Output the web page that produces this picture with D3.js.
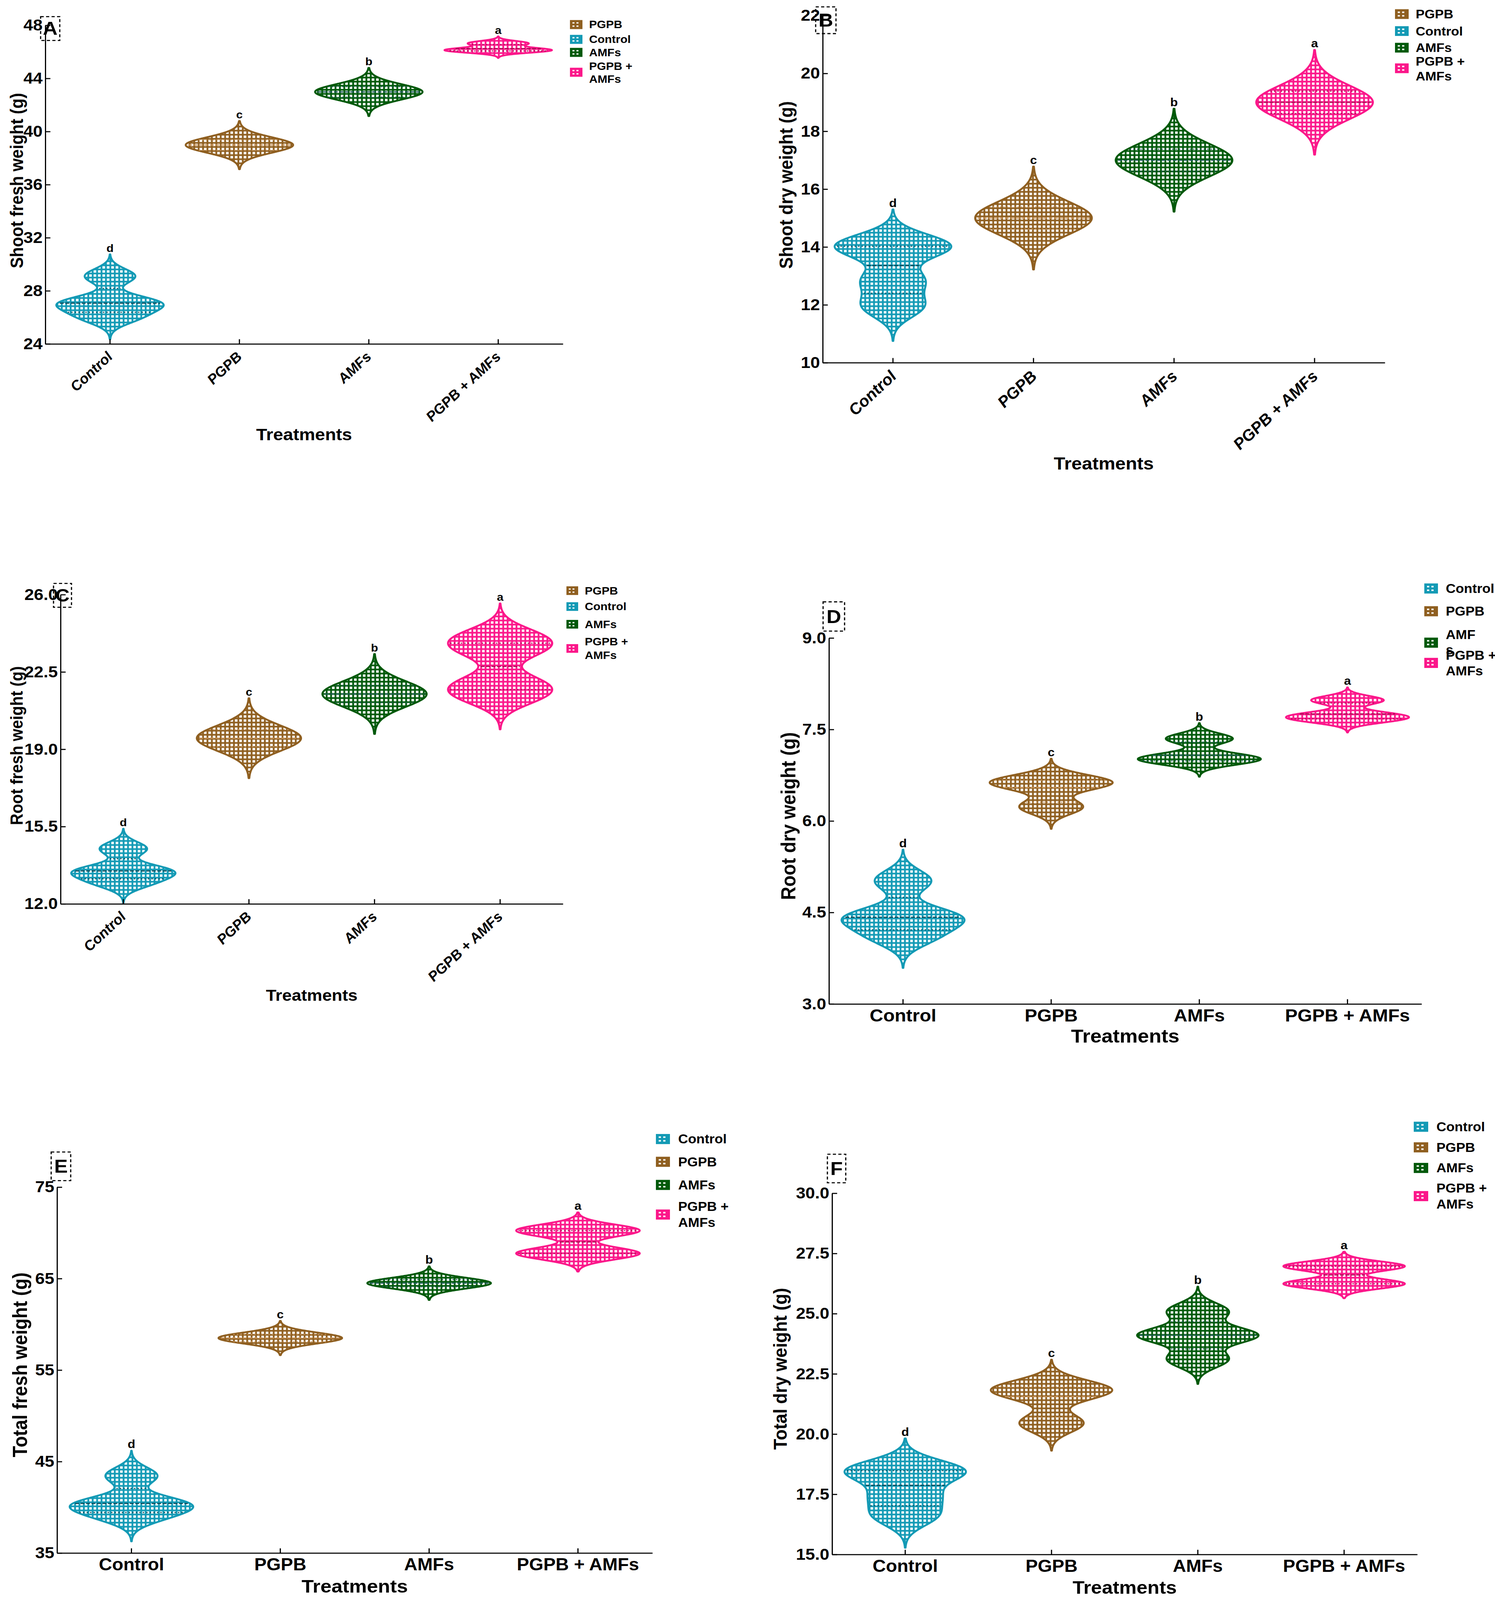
<!DOCTYPE html>
<html>
<head>
<meta charset="utf-8">
<script src="https://cdn.jsdelivr.net/npm/d3@7"></script>
<style>
  html, body { margin: 0; padding: 0; height: 100%; overflow: hidden; background: #fff; }
  svg { display: block; width: 100vw; height: 100vh; }
</style>
</head>
<body>
<script>
// ---- data (replicate values) ----
const treatments = ["Control", "PGPB", "AMFs", "PGPB + AMFs"];
const letters = ["d", "c", "b", "a"];

const shootFresh = [[26.0, 26.9, 27.2, 29.1], [38.9, 39.0, 39.05], [42.9, 43.0, 43.05], [46.05, 46.2, 46.65]];
const shootFreshBw = [0.55, 0.58, 0.58, 0.17];
const shootDry = [[11.95, 12.85, 13.95, 14.1], [14.9, 15.0, 15.1], [16.9, 17.0, 17.1], [18.9, 19.0, 19.1]];
const shootDryBw = [0.4, 0.56, 0.56, 0.57];
const rootFresh = [[12.95, 13.4, 13.55, 14.5], [19.4, 19.5, 19.6], [21.4, 21.5, 21.6], [21.4, 22.0, 23.5, 24.1]];
const rootFreshBw = [0.3, 0.57, 0.57, 0.5];
const rootDry = [[4.1, 4.38, 4.45, 5.02], [6.23, 6.6, 6.66], [6.98, 7.05, 7.35], [7.66, 7.74, 7.98]];
const rootDryBw = [0.17, 0.12, 0.085, 0.07];
const totalFresh = [[39.0, 40.2, 40.5, 43.45], [58.4, 58.5, 58.6], [64.4, 64.5, 64.6], [67.75, 70.25]];
const totalFreshBw = [0.91, 0.59, 0.58, 0.66];
const totalDry = [[16.6, 17.45, 18.45, 18.5], [20.45, 21.7, 21.95], [23.1, 24.05, 24.15, 25.1], [26.24, 26.97]];
const totalDryBw = [0.44, 0.38, 0.34, 0.2];

const ticksShootFresh = [24, 28, 32, 36, 40, 44, 48];
const ticksShootDry = [10, 12, 14, 16, 18, 20, 22];
const ticksRootFresh = [12.0, 15.5, 19.0, 22.5, 26.0];
const ticksRootDry = [3.0, 4.5, 6.0, 7.5, 9.0];
const ticksTotalFresh = [35, 45, 55, 65, 75];
const ticksTotalDry = [15.0, 17.5, 20.0, 22.5, 25.0, 27.5, 30.0];

const colors = ["#139ab5", "#8f5f20", "#00590a", "#fb178a"];
const lineColors = ["#0a4654", "#c9945a", "#1e5a5a", "#a3104f"];

const FONT = "'Liberation Sans', Arial, sans-serif";
const W = 3827, H = 4429;

const legendAlt = [["PGPB"], ["Control"], ["AMFs"], ["PGPB +", "AMFs"]];
const legendStd = [["Control"], ["PGPB"], ["AMFs"], ["PGPB +", "AMFs"]];

const panels = [
  { label: "A", values: shootFresh, bw: shootFreshBw, ticks: ticksShootFresh, fmt: d3.format("d"),
    yTitle: "Shoot fresh weight (g)", left: 116, right: 1441, top: 70, bottom: 952,
    rotated: true, xFont: 38, letterFont: 30, yTitleX: 43, yTitleY: 500, yTitleFont: 46,
    xTitleY: 1202, xTitleFont: 46, box: [104, 46, 49, 66], boxFont: 52,
    legend: { x: 1459, tx: 1508, w: 32, h: 25, font: 30, order: [1, 0, 2, 3], lines: legendAlt,
      sy: [68, 109, 145, 200], ly: [[68], [109], [145], [183, 219]] } },
  { label: "B", values: shootDry, bw: shootDryBw, ticks: ticksShootDry, fmt: d3.format("d"),
    yTitle: "Shoot dry weight (g)", left: 2106, right: 3545, top: 43, bottom: 1004,
    rotated: true, xFont: 43, letterFont: 32, yTitleX: 2012, yTitleY: 512, yTitleFont: 48,
    xTitleY: 1283, xTitleFont: 48, box: [2088, 19, 52, 74], boxFont: 52,
    legend: { x: 3571, tx: 3624, w: 35, h: 27, font: 34, order: [1, 0, 2, 3], lines: legendAlt,
      sy: [39, 86, 132, 189], ly: [[39], [86], [132], [170, 211]] } },
  { label: "C", values: rootFresh, bw: rootFreshBw, ticks: ticksRootFresh, fmt: d3.format(".1f"),
    yTitle: "Root fresh weight (g)", left: 155, right: 1441, top: 1646, bottom: 2502,
    rotated: true, xFont: 38, letterFont: 30, yTitleX: 43, yTitleY: 2064, yTitleFont: 44,
    xTitleY: 2755, xTitleFont: 44, box: [137, 1615, 46, 66], boxFont: 50,
    legend: { x: 1450, tx: 1497, w: 30, h: 24, font: 30, order: [1, 0, 2, 3], lines: legendAlt,
      sy: [1635, 1679, 1728, 1795], ly: [[1635], [1679], [1728], [1776, 1814]] } },
  { label: "D", values: rootDry, bw: rootDryBw, ticks: ticksRootDry, fmt: d3.format(".1f"),
    yTitle: "Root dry weight (g)", left: 2122, right: 3639, top: 1766, bottom: 2779,
    rotated: false, xFont: 48, letterFont: 32, yTitleX: 2018, yTitleY: 2259, yTitleFont: 51,
    xTitleY: 2868, xTitleFont: 52, box: [2107, 1666, 55, 81], boxFont: 52,
    legend: { x: 3646, tx: 3701, w: 35, h: 28, font: 35, order: [0, 1, 2, 3],
      lines: [["Control"], ["PGPB"], ["AMF", "s"], ["PGPB +", "AMFs"]],
      sy: [1629, 1692, 1779, 1835], ly: [[1629], [1692], [1757, 1799], [1814, 1857]] } },
  { label: "E", values: totalFresh, bw: totalFreshBw, ticks: ticksTotalFresh, fmt: d3.format("d"),
    yTitle: "Total fresh weight (g)", left: 146, right: 1670, top: 3286, bottom: 4299,
    rotated: false, xFont: 47, letterFont: 32, yTitleX: 51, yTitleY: 3778, yTitleFont: 51,
    xTitleY: 4391, xTitleFont: 51, box: [131, 3189, 50, 79], boxFont: 52,
    legend: { x: 1679, tx: 1736, w: 36, h: 28, font: 35, order: [0, 1, 2, 3], lines: legendStd,
      sy: [3153, 3216, 3280, 3362], ly: [[3153], [3216], [3280], [3340, 3384]] } },
  { label: "F", values: totalDry, bw: totalDryBw, ticks: ticksTotalDry, fmt: d3.format(".1f"),
    yTitle: "Total dry weight (g)", left: 2130, right: 3628, top: 3303, bottom: 4303,
    rotated: false, xFont: 47, letterFont: 32, yTitleX: 1997, yTitleY: 3789, yTitleFont: 49,
    xTitleY: 4394, xTitleFont: 50, box: [2118, 3195, 47, 79], boxFont: 52,
    legend: { x: 3619, tx: 3677, w: 37, h: 28, font: 35, order: [0, 1, 2, 3], lines: legendStd,
      sy: [3119, 3176, 3233, 3311], ly: [[3119], [3176], [3233], [3289, 3333]] } }
];

// drawn in a 3827x4429 user space, stretched to whatever the viewport really is
const svg = d3.select("body").append("svg")
  .attr("viewBox", `0 0 ${W} ${H}`)
  .attr("preserveAspectRatio", "none");

// grid hatch: coloured ground with white squares
const defs = svg.append("defs");
const P = 11.3;
colors.forEach((c, i) => {
  const pat = defs.append("pattern")
    .attr("id", "grid" + i)
    .attr("patternUnits", "userSpaceOnUse")
    .attr("width", P).attr("height", P);
  pat.append("rect").attr("width", P).attr("height", P).attr("fill", c);
  pat.append("rect").attr("x", 2.3).attr("y", 2.3).attr("width", 6.7).attr("height", 6.7).attr("fill", "#fff");
});

// gaussian kernel density, cut at 3 bandwidths like ggplot
function violinProfile(values, bw) {
  const lo = d3.min(values) - 3 * bw;
  const hi = d3.max(values) + 3 * bw;
  const n = 400;
  const pts = d3.range(n + 1).map(i => {
    const v = lo + (hi - lo) * i / n;
    const d = d3.sum(values, x => Math.exp(-0.5 * ((v - x) / bw) ** 2));
    return { v, d };
  });
  const maxD = d3.max(pts, p => p.d);
  let cum = 0;
  pts.forEach((p, i) => {
    p.w = p.d / maxD;
    if (i > 0) cum += (p.d + pts[i - 1].d) / 2;
    p.c = cum;
  });
  pts.forEach(p => (p.c /= cum));
  return pts;
}

function quantileAt(pts, q) {
  const i = d3.bisector(p => p.c).left(pts, q);
  const a = pts[Math.max(i - 1, 0)], b = pts[i];
  const t = b.c === a.c ? 0 : (q - a.c) / (b.c - a.c);
  return { v: a.v + t * (b.v - a.v), w: a.w + t * (b.w - a.w) };
}

panels.forEach(cfg => {
  const g = svg.append("g").attr("class", "panel-" + cfg.label);

  const x = d3.scaleBand().domain(treatments).range([cfg.left, cfg.right]);
  const y = d3.scaleLinear()
    .domain([cfg.ticks[0], cfg.ticks[cfg.ticks.length - 1]])
    .range([cfg.bottom, cfg.top]);
  const halfMax = x.bandwidth() * 0.415;

  // violins
  treatments.forEach((t, i) => {
    const pts = violinProfile(cfg.values[i], cfg.bw[i]);
    const cx = x(t) + x.bandwidth() / 2;
    const area = d3.area()
      .y(p => y(p.v))
      .x0(p => cx - p.w * halfMax)
      .x1(p => cx + p.w * halfMax);

    g.append("path")
      .datum(pts)
      .attr("d", area)
      .attr("fill", `url(#grid${i})`)
      .attr("stroke", colors[i])
      .attr("stroke-width", 5)
      .attr("stroke-linejoin", "round");

    [0.25, 0.5, 0.75].forEach(q => {
      const qp = quantileAt(pts, q);
      g.append("line")
        .attr("x1", cx - qp.w * halfMax + 6)
        .attr("x2", cx + qp.w * halfMax - 6)
        .attr("y1", y(qp.v)).attr("y2", y(qp.v))
        .attr("stroke", lineColors[i])
        .attr("stroke-width", 3)
        .attr("stroke-dasharray", q === 0.5 ? "10,4" : "3,6");
    });

    g.append("text")
      .attr("x", cx)
      .attr("y", y(pts[pts.length - 1].v) - 7)
      .attr("text-anchor", "middle")
      .attr("font-family", FONT)
      .attr("font-weight", "bold")
      .attr("font-size", cfg.letterFont)
      .text(letters[i]);
  });

  // axes
  const yAxis = d3.axisLeft(y)
    .tickValues(cfg.ticks)
    .tickFormat(cfg.fmt)
    .tickSizeInner(-13)
    .tickSizeOuter(0)
    .tickPadding(7);

  g.append("g")
    .attr("transform", `translate(${cfg.left},0)`)
    .call(yAxis)
    .call(a => a.attr("font-family", FONT).attr("font-size", 44).attr("font-weight", "bold"))
    .call(a => a.selectAll("path, line").attr("stroke", "#000").attr("stroke-width", 3))
    .call(a => a.selectAll("text").attr("fill", "#000"));

  const xAxis = d3.axisBottom(x)
    .tickSizeInner(-13)
    .tickSizeOuter(0)
    .tickPadding(15);

  const xg = g.append("g")
    .attr("transform", `translate(0,${cfg.bottom})`)
    .call(xAxis)
    .call(a => a.attr("font-family", FONT).attr("font-size", cfg.xFont).attr("font-weight", "bold"))
    .call(a => a.selectAll("path, line").attr("stroke", "#000").attr("stroke-width", 3))
    .call(a => a.selectAll("text").attr("fill", "#000"));

  if (cfg.rotated) {
    xg.selectAll(".tick text")
      .attr("y", 0)
      .attr("dy", "0.71em")
      .attr("text-anchor", "end")
      .attr("font-style", "italic")
      .attr("transform", "translate(-10,19) rotate(-45)");
  }

  // titles
  g.append("text")
    .attr("transform", `translate(${cfg.yTitleX},${cfg.yTitleY}) rotate(-90)`)
    .attr("text-anchor", "middle")
    .attr("dominant-baseline", "central")
    .attr("font-family", FONT)
    .attr("font-weight", "bold")
    .attr("font-size", cfg.yTitleFont)
    .text(cfg.yTitle);

  g.append("text")
    .attr("x", (cfg.left + cfg.right) / 2)
    .attr("y", cfg.xTitleY)
    .attr("text-anchor", "middle")
    .attr("dominant-baseline", "central")
    .attr("font-family", FONT)
    .attr("font-weight", "bold")
    .attr("font-size", cfg.xTitleFont)
    .text("Treatments");

  // panel letter in dashed box
  const [bx, by, bw, bh] = cfg.box;
  g.append("rect")
    .attr("x", bx).attr("y", by).attr("width", bw).attr("height", bh)
    .attr("fill", "none")
    .attr("stroke", "#000")
    .attr("stroke-width", 3)
    .attr("stroke-dasharray", "8,6");
  g.append("text")
    .attr("x", bx + bw / 2)
    .attr("y", by + bh / 2)
    .attr("text-anchor", "middle")
    .attr("dominant-baseline", "central")
    .attr("font-family", FONT)
    .attr("font-weight", "bold")
    .attr("font-size", cfg.boxFont)
    .text(cfg.label);

  // legend
  const L = cfg.legend;
  L.order.forEach((ti, row) => {
    const sy = L.sy[row] - L.h / 2;
    g.append("rect")
      .attr("x", L.x).attr("y", sy)
      .attr("width", L.w).attr("height", L.h)
      .attr("fill", colors[ti]);
    [[0.2, 0.24], [0.52, 0.24], [0.2, 0.6], [0.52, 0.6]].forEach(([fx, fy]) => {
      g.append("rect")
        .attr("x", L.x + fx * L.w).attr("y", sy + fy * L.h)
        .attr("width", L.w * 0.16).attr("height", L.h * 0.15)
        .attr("fill", "#fff");
    });
    L.lines[row].forEach((txt, k) => {
      g.append("text")
        .attr("x", L.tx)
        .attr("y", L.ly[row][k])
        .attr("dominant-baseline", "central")
        .attr("font-family", FONT)
        .attr("font-weight", "bold")
        .attr("font-size", L.font)
        .text(txt);
    });
  });
});
</script>
</body>
</html>
